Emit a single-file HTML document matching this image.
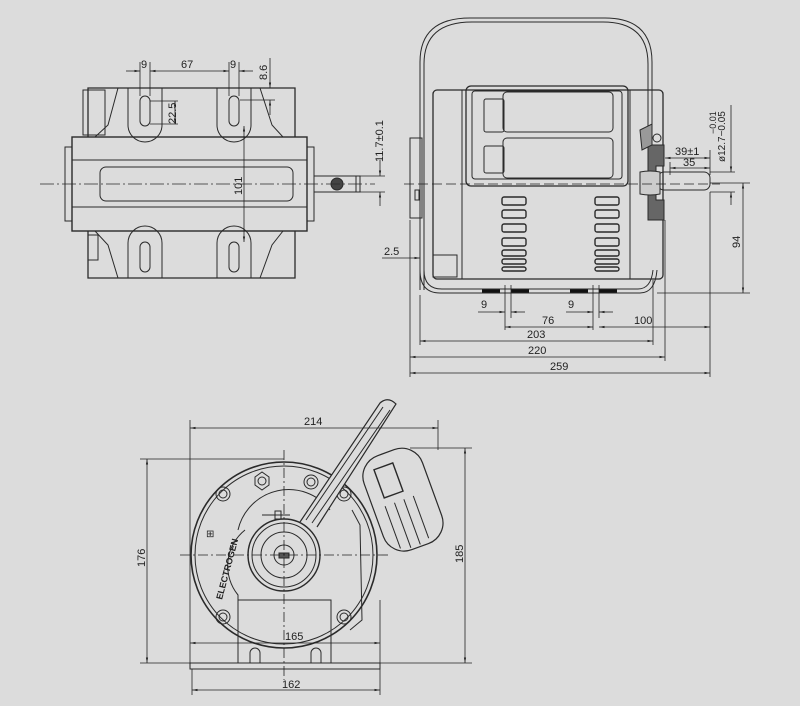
<!DOCTYPE html>
<html><head><meta charset="utf-8"><style>
html,body{margin:0;padding:0;background:#dcdcdc;}
svg{display:block;}
text{font-family:"Liberation Sans",sans-serif;font-size:11px;fill:#222;}
</style></head><body>
<svg width="800" height="706" viewBox="0 0 800 706" xmlns="http://www.w3.org/2000/svg">
<defs>
<marker id="a" viewBox="0 0 10 10" refX="10" refY="5" markerWidth="7" markerHeight="7" orient="auto-start-reverse"><path d="M0,3 L10,5 L0,7z" fill="#222"/></marker>
</defs>
<g fill="none" stroke="#2a2a2a" stroke-width="1">
<!-- ===== LEFT VIEW ===== -->
<rect x="72" y="137" width="235" height="94" stroke-width="1.4"/>
<line x1="72" y1="160" x2="307" y2="160"/>
<line x1="72" y1="207" x2="307" y2="207"/>
<rect x="100" y="167" width="193" height="34" rx="6"/>
<rect x="65" y="147" width="7" height="74"/>
<rect x="307" y="147" width="7" height="74"/>
<path d="M88,137 L88,88 L295,88 L295,137" stroke-width="1.3"/>
<path d="M88,231 L88,278 L295,278 L295,231" stroke-width="1.3"/>
<path d="M128,88 L128,125 A17,17 0 0 0 162,125 L162,88"/>
<path d="M217,88 L217,125 A17,17 0 0 0 251,125 L251,88"/>
<rect x="140" y="96" width="10" height="30" rx="5"/>
<rect x="229" y="96" width="10" height="30" rx="5"/>
<path d="M118,88 L108,125 L95,137"/><path d="M260,88 L272,125 L283,137"/>
<path d="M128,278 L128,243 A17,17 0 0 1 162,243 L162,278"/>
<path d="M217,278 L217,243 A17,17 0 0 1 251,243 L251,278"/>
<rect x="140" y="242" width="10" height="30" rx="5"/>
<rect x="229" y="242" width="10" height="30" rx="5"/>
<path d="M95,231 L108,245 L118,278"/><path d="M283,231 L272,245 L260,278"/>
<rect x="83" y="90" width="22" height="45"/>
<rect x="88" y="235" width="10" height="25"/>
<rect x="314" y="176" width="46" height="16"/>
<circle cx="337" cy="184" r="6" fill="#444"/>
<line x1="356" y1="176" x2="356" y2="192"/>
<line x1="40" y1="184" x2="375" y2="184" stroke-dasharray="14,3,2,3" stroke-width="0.8"/>
</g>
<g fill="none" stroke="#222" stroke-width="0.8">
<line x1="140" y1="62" x2="140" y2="96"/><line x1="150" y1="62" x2="150" y2="96"/>
<line x1="229" y1="62" x2="229" y2="96"/><line x1="239" y1="62" x2="239" y2="96"/>
<line x1="126" y1="71" x2="140" y2="71" marker-end="url(#a)"/>
<line x1="150" y1="71" x2="229" y2="71" marker-start="url(#a)" marker-end="url(#a)"/>
<line x1="253" y1="71" x2="239" y2="71" marker-end="url(#a)"/>
<line x1="150" y1="101" x2="178" y2="101"/><line x1="150" y1="124" x2="178" y2="124"/>
<line x1="175" y1="101" x2="175" y2="124" marker-start="url(#a)" marker-end="url(#a)"/>
<line x1="270" y1="58" x2="270" y2="88" marker-end="url(#a)"/>
<line x1="240" y1="100" x2="275" y2="100"/>
<line x1="270" y1="115" x2="270" y2="100" marker-end="url(#a)"/>
<line x1="244" y1="126" x2="244" y2="242" marker-start="url(#a)" marker-end="url(#a)"/>
<line x1="360" y1="176" x2="385" y2="176"/><line x1="360" y1="192" x2="385" y2="192"/>
<line x1="380" y1="160" x2="380" y2="176" marker-end="url(#a)"/>
<line x1="380" y1="206" x2="380" y2="192" marker-end="url(#a)"/>
</g>
<text x="141" y="68">9</text><text x="181" y="68">67</text><text x="230" y="68">9</text>
<text transform="translate(267,80) rotate(-90)">8.6</text>
<text transform="translate(176,124) rotate(-90)">22.5</text>
<text transform="translate(242,195) rotate(-90)">101</text>
<text transform="translate(383,162) rotate(-90)">11.7±0.1</text>

<!-- ===== RIGHT VIEW ===== -->
<g fill="none" stroke="#2a2a2a" stroke-width="1">
<path d="M420,290 L420,62 Q420,18 470,18 L605,18 Q652,18 652,62 L652,130"/>
<path d="M424,290 L424,64 Q424,22 472,22 L603,22 Q648,22 648,64 L648,130"/>
<path d="M420,270 Q420,293 440,293 L640,293 Q655,293 657,270"/>
<path d="M424,270 Q424,289 442,289 L638,289 Q651,289 653,270"/>
<rect x="433" y="90" width="230" height="189" rx="4" stroke-width="1.3"/>
<line x1="462" y1="90" x2="462" y2="279"/>
<line x1="630" y1="90" x2="630" y2="279"/>
<rect x="466" y="86" width="162" height="100" rx="5" stroke-width="1.3"/>
<rect x="472" y="91" width="150" height="88" rx="3"/>
<rect x="503" y="92" width="110" height="40" rx="4"/>
<rect x="503" y="138" width="110" height="40" rx="4"/>
<rect x="484" y="99" width="20" height="33" rx="2"/>
<rect x="484" y="146" width="20" height="27" rx="2"/>
<rect x="410" y="138" width="12" height="80"/>
<rect x="415" y="190" width="4" height="10"/>
<rect x="433" y="255" width="24" height="22"/>
<path d="M648,145 L664,145 L664,166 L656,166 L656,200 L664,200 L664,220 L648,220 Z" fill="#666"/>
<path d="M640,130 L652,124 L652,145 L642,150 Z" fill="#999"/>
<circle cx="657" cy="138" r="4"/>
<rect x="658" y="172" width="52" height="18" rx="6"/>
<path d="M640,172 Q650,170 660,172 L660,194 Q650,196 640,194 Z" fill="#ccc"/>
</g>
<g fill="#ddd" stroke="#2a2a2a" stroke-width="1.4">
<rect x="502" y="197" width="24" height="8" rx="2"/><rect x="502" y="210" width="24" height="8" rx="2"/><rect x="502" y="224" width="24" height="8" rx="2"/><rect x="502" y="238" width="24" height="8" rx="2"/><rect x="502" y="250" width="24" height="6" rx="2"/><rect x="502" y="259" width="24" height="5" rx="2"/><rect x="502" y="267" width="24" height="4" rx="2"/>
<rect x="595" y="197" width="24" height="8" rx="2"/><rect x="595" y="210" width="24" height="8" rx="2"/><rect x="595" y="224" width="24" height="8" rx="2"/><rect x="595" y="238" width="24" height="8" rx="2"/><rect x="595" y="250" width="24" height="6" rx="2"/><rect x="595" y="259" width="24" height="5" rx="2"/><rect x="595" y="267" width="24" height="4" rx="2"/>
</g>
<g stroke="#111" stroke-width="3"><line x1="482" y1="291" x2="500" y2="291"/><line x1="511" y1="291" x2="529" y2="291"/><line x1="570" y1="291" x2="588" y2="291"/><line x1="599" y1="291" x2="617" y2="291"/></g>
<g fill="none" stroke="#222" stroke-width="0.8">
<line x1="404" y1="184" x2="720" y2="184" stroke-dasharray="10,4"/>
<line x1="505" y1="285" x2="505" y2="330"/><line x1="511" y1="285" x2="511" y2="318"/>
<line x1="593" y1="285" x2="593" y2="330"/><line x1="599" y1="285" x2="599" y2="318"/>
<line x1="478" y1="312" x2="505" y2="312" marker-end="url(#a)"/><line x1="525" y1="312" x2="511" y2="312" marker-end="url(#a)"/>
<line x1="566" y1="312" x2="593" y2="312" marker-end="url(#a)"/><line x1="613" y1="312" x2="599" y2="312" marker-end="url(#a)"/>
<line x1="505" y1="327" x2="593" y2="327" marker-start="url(#a)" marker-end="url(#a)"/>
<line x1="599" y1="327" x2="710" y2="327" marker-start="url(#a)" marker-end="url(#a)"/>
<line x1="420" y1="295" x2="420" y2="345"/><line x1="410" y1="220" x2="410" y2="377"/>
<line x1="653" y1="280" x2="653" y2="345"/><line x1="665" y1="220" x2="665" y2="361"/>
<line x1="710" y1="192" x2="710" y2="377"/>
<line x1="420" y1="341" x2="653" y2="341" marker-start="url(#a)" marker-end="url(#a)"/>
<line x1="410" y1="357" x2="665" y2="357" marker-start="url(#a)" marker-end="url(#a)"/>
<line x1="410" y1="373" x2="710" y2="373" marker-start="url(#a)" marker-end="url(#a)"/>
<line x1="382" y1="258" x2="420" y2="258" marker-end="url(#a)"/>
<line x1="665" y1="158" x2="710" y2="158" marker-start="url(#a)" marker-end="url(#a)"/>
<line x1="670" y1="168" x2="710" y2="168" marker-start="url(#a)" marker-end="url(#a)"/>
<line x1="670" y1="162" x2="670" y2="175"/><line x1="710" y1="150" x2="710" y2="175"/>
<line x1="710" y1="172" x2="735" y2="172"/><line x1="710" y1="192" x2="735" y2="192"/>
<line x1="731" y1="105" x2="731" y2="172" marker-end="url(#a)"/>
<line x1="731" y1="205" x2="731" y2="192" marker-end="url(#a)"/>
<line x1="710" y1="183" x2="750" y2="183"/><line x1="657" y1="293" x2="750" y2="293"/>
<line x1="743" y1="183" x2="743" y2="293" marker-start="url(#a)" marker-end="url(#a)"/>
</g>
<text x="481" y="308">9</text><text x="568" y="308">9</text>
<text x="542" y="324">76</text><text x="634" y="324">100</text>
<text x="527" y="338">203</text><text x="528" y="354">220</text><text x="550" y="370">259</text>
<text x="384" y="255">2.5</text>
<text x="675" y="155">39±1</text><text x="683" y="166">35</text>
<text transform="translate(725,162) rotate(-90)" style="font-size:10px">ø12.7−0.05</text>
<text transform="translate(716,134) rotate(-90)" style="font-size:9px">−0.01</text>
<text transform="translate(740,248) rotate(-90)">94</text>

<!-- ===== FRONT VIEW ===== -->
<g fill="none" stroke="#2a2a2a" stroke-width="1">
<circle cx="284" cy="555" r="93" stroke-width="1.6"/>
<circle cx="284" cy="555" r="89"/>
<circle cx="284" cy="555" r="36" stroke-width="1.4"/>
<circle cx="284" cy="555" r="32"/>
<circle cx="284" cy="555" r="23"/>
<circle cx="284" cy="555" r="10"/>
<rect x="279" y="553" width="10" height="5" fill="#555"/>
<circle cx="223" cy="494" r="7"/><circle cx="223" cy="494" r="4"/>
<circle cx="344" cy="494" r="7"/><circle cx="344" cy="494" r="4"/>
<circle cx="223" cy="617" r="7"/><circle cx="223" cy="617" r="4"/>
<circle cx="344" cy="617" r="7"/><circle cx="344" cy="617" r="4"/>
<polygon points="255,477 262,472 269,477 269,485 262,490 255,485"/><circle cx="262" cy="481" r="4"/>
<circle cx="311" cy="482" r="7"/><circle cx="311" cy="482" r="4"/>
<path d="M238,530 A52,52 0 0 1 330,510"/>
<path d="M238,600 L238,595 A46,46 0 0 1 245,530"/>
<path d="M352,510 L360,525 L362,620 L350,630"/>
<line x1="262" y1="515" x2="290" y2="515"/><rect x="275" y="511" width="6" height="8"/>
<path d="M190,663 L380,663 L380,669 L190,669 Z"/>
<path d="M238,663 L238,600 L331,600 L331,663"/>
<path d="M250,663 L250,653 A5,5 0 0 1 260,653 L260,663"/>
<path d="M311,663 L311,653 A5,5 0 0 1 321,653 L321,663"/>
<path d="M300,522 L380,403 Q388,396 396,404 L317,527" fill="#dcdcdc" stroke-width="1.2"/>
<path d="M306,520 L383,407 M312,523 L390,410"/>
<g transform="rotate(-20 402 500)">
<rect x="372" y="450" width="62" height="100" rx="22" fill="#dcdcdc" stroke-width="1.2"/>
<rect x="386" y="462" width="20" height="30" stroke-width="1.4"/>
<line x1="384" y1="500" x2="384" y2="545"/><line x1="394" y1="500" x2="394" y2="548"/><line x1="404" y1="500" x2="404" y2="548"/><line x1="414" y1="500" x2="414" y2="545"/>
</g>
</g>
<text transform="translate(222,600) rotate(-75)" style="font-size:9px;font-weight:bold">ELECTROGEN</text>
<text x="206" y="537" style="font-size:10px">⊞</text>
<g fill="none" stroke="#222" stroke-width="0.8">
<line x1="284" y1="450" x2="284" y2="680" stroke-dasharray="10,3,2,3"/>
<line x1="180" y1="555" x2="390" y2="555" stroke-dasharray="10,3,2,3"/>
<line x1="190" y1="420" x2="190" y2="668"/><line x1="438" y1="420" x2="438" y2="450"/>
<line x1="190" y1="428" x2="438" y2="428" marker-start="url(#a)" marker-end="url(#a)"/>
<line x1="140" y1="459" x2="284" y2="459"/><line x1="140" y1="663" x2="190" y2="663"/>
<line x1="147" y1="459" x2="147" y2="663" marker-start="url(#a)" marker-end="url(#a)"/>
<line x1="410" y1="448" x2="472" y2="448"/><line x1="380" y1="663" x2="472" y2="663"/>
<line x1="465" y1="448" x2="465" y2="663" marker-start="url(#a)" marker-end="url(#a)"/>
<line x1="380" y1="600" x2="380" y2="663"/>
<line x1="190" y1="643" x2="380" y2="643" marker-start="url(#a)" marker-end="url(#a)"/>
<line x1="192" y1="669" x2="192" y2="695"/><line x1="380" y1="669" x2="380" y2="695"/>
<line x1="192" y1="690" x2="380" y2="690" marker-start="url(#a)" marker-end="url(#a)"/>
</g>
<text x="304" y="425">214</text>
<text transform="translate(145,567) rotate(-90)">176</text>
<text transform="translate(463,563) rotate(-90)">185</text>
<text x="285" y="640">165</text>
<text x="282" y="688">162</text>
</svg>
</body></html>
